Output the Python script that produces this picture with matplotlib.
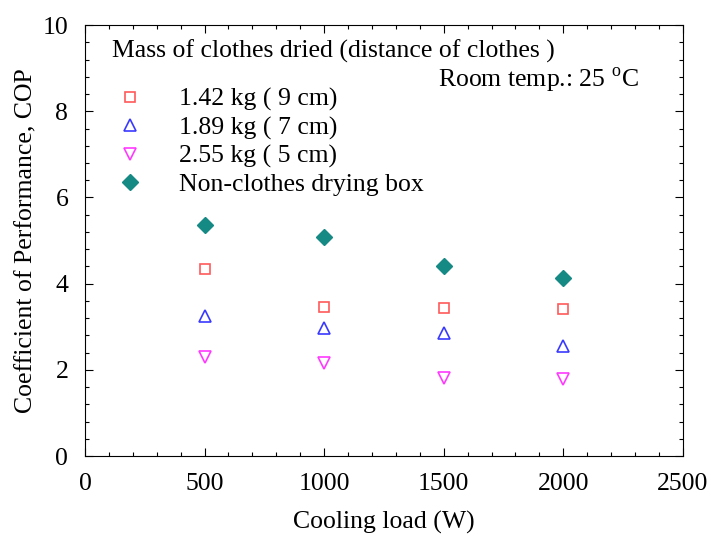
import matplotlib.pyplot as plt
from matplotlib.ticker import MultipleLocator

plt.rcParams['font.family'] = ['Liberation Serif', 'DejaVu Serif']
plt.rcParams['mathtext.fontset'] = 'custom'
plt.rcParams['mathtext.rm'] = 'Liberation Serif'

# Cooling load (W) and COP for each drying condition
load = [500, 1000, 1500, 2000]
cop_142 = [4.33, 3.46, 3.43, 3.42]
cop_189 = [3.24, 2.96, 2.86, 2.55]
cop_255 = [2.29, 2.16, 1.81, 1.79]
cop_empty = [5.36, 5.08, 4.41, 4.13]

labels = ["1.42 kg ( 9 cm)", "1.89 kg ( 7 cm)", "2.55 kg ( 5 cm)",
          "Non-clothes drying box"]

fs = 18.5

fig = plt.figure(figsize=(7.11, 5.34), dpi=100)
ax = fig.add_axes([0.1195, 0.146, 0.841, 0.807])

ax.plot(load, cop_142, linestyle="none", marker="s", markersize=7.5,
        markerfacecolor="none", markeredgecolor="#ff5a5a", markeredgewidth=1.2,
        label=labels[0])
ax.plot(load, cop_189, linestyle="none", marker="^", markersize=9,
        markerfacecolor="none", markeredgecolor="#3a3aff", markeredgewidth=1.2,
        label=labels[1])
ax.plot(load, cop_255, linestyle="none", marker="v", markersize=9,
        markerfacecolor="none", markeredgecolor="#ff3aff", markeredgewidth=1.2,
        label=labels[2])
ax.plot(load, cop_empty, linestyle="none", marker="D", markersize=8,
        color="#158a85", label=labels[3])

ax.set_xlim(0, 2500)
ax.set_ylim(0, 10)
ax.xaxis.set_major_locator(MultipleLocator(500))
ax.xaxis.set_minor_locator(MultipleLocator(100))
ax.yaxis.set_major_locator(MultipleLocator(2))
ax.yaxis.set_minor_locator(MultipleLocator(0.4))
ax.tick_params(which="both", direction="in", top=True, right=True,
               labelsize=fs, width=0.8)
ax.tick_params(which="major", length=6)
ax.tick_params(axis="x", which="major", pad=12)
ax.tick_params(axis="y", which="major", pad=12)
ax.tick_params(which="minor", length=3)

ax.set_xlabel("Cooling load (W)", fontsize=fs, labelpad=12)
ax.set_ylabel("Coefficient of Performance, COP", fontsize=fs, labelpad=4)

leg = ax.legend(title="Mass of clothes dried (distance of clothes )",
                loc="upper left", bbox_to_anchor=(0.02, 1.003),
                frameon=False, fontsize=fs, title_fontsize=fs,
                alignment="left", handlelength=1.4, handletextpad=1.2,
                labelspacing=0.2, borderaxespad=0.2)
leg._legend_box.sep = 18

ax.text(0.59, 0.871, r"Room temp.: 25 $^{\mathrm{o}}$C", transform=ax.transAxes,
        fontsize=fs, ha="left", va="center")

fig.savefig("out.png", dpi=100)
